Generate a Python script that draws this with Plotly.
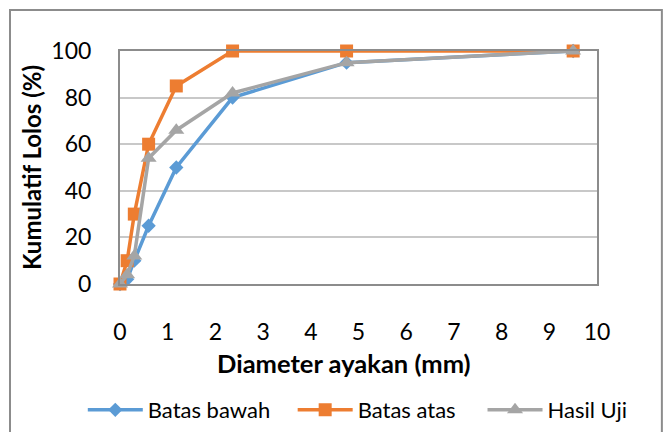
import plotly.graph_objects as go

# Sieve openings (mm) and cumulative percent passing
diameter = [0, 0.15, 0.3, 0.6, 1.18, 2.36, 4.75, 9.5]
batas_bawah = [0, 2, 10, 25, 50, 80, 95, 100]
batas_atas = [0, 10, 30, 60, 85, 100, 100, 100]
hasil_uji = [0, 4, 12, 54, 66, 82, 95, 100]

x_ticks = [0, 1, 2, 3, 4, 5, 6, 7, 8, 9, 10]
y_ticks = [0, 20, 40, 60, 80, 100]

FONT = "Lato"
# name, values, colour, marker, marker size, legend id, legend x (paper)
series = [
    ("Batas bawah", batas_bawah, "#5B9BD5", "diamond", 11, "legend", -0.078),
    ("Batas atas", batas_atas, "#ED7D31", "square", 13, "legend2", 0.362),
    ("Hasil Uji", hasil_uji, "#A5A5A5", "triangle-up", 14, "legend3", 0.760),
]

fig = go.Figure()
legends = {}
for name, vals, color, symbol, size, leg, lx in series:
    fig.add_trace(go.Scatter(
        x=diameter, y=vals, name=name, mode="lines+markers",
        line=dict(color=color, width=3.5),
        marker=dict(symbol=symbol, size=size, color=color),
        cliponaxis=False, legend=leg,
    ))
    legends[leg] = dict(
        orientation="h", x=lx, xanchor="left",
        y=-0.541, yanchor="middle", bgcolor="rgba(0,0,0,0)",
        font=dict(family=FONT, size=22, color="#000000"),
        itemwidth=55,
    )

fig.update_layout(
    width=664, height=432,
    margin=dict(l=120, r=67, t=51, b=148, autoexpand=False),
    paper_bgcolor="white", plot_bgcolor="white",
    font=dict(family=FONT, size=23, color="#000000"),
    showlegend=True,
    **legends,
    xaxis=dict(
        range=[0, 10], tickvals=x_ticks, showgrid=False, zeroline=False,
        showline=True, mirror=True, linecolor="#8C8C8C", linewidth=2,
        ticks="", ticklabelstandoff=26, automargin=False,
        tickfont=dict(family=FONT, size=23),
    ),
    yaxis=dict(
        range=[0, 100], tickvals=y_ticks, showgrid=True,
        gridcolor="#C8C8C8", gridwidth=1.5, zeroline=False,
        showline=True, mirror=True, linecolor="#8C8C8C", linewidth=2,
        ticks="", ticklabelstandoff=22, automargin=False,
        tickfont=dict(family=FONT, size=23),
        title=dict(text="<b>Kumulatif Lolos (%)</b>", standoff=3,
                   font=dict(family=FONT, size=24)),
    ),
    annotations=[dict(
        text="<b>Diameter ayakan (mm)</b>", xref="paper", yref="paper",
        x=0.4696, y=-0.339, xanchor="center", yanchor="middle",
        showarrow=False, font=dict(family=FONT, size=25.5, color="#000000"),
    )],
    shapes=[dict(
        type="rect", xref="paper", yref="paper",
        x0=-0.2306, x1=1.136, y0=-0.645, y1=1.176,
        line=dict(color="#8C8C8C", width=2), fillcolor="rgba(0,0,0,0)",
        layer="below",
    )],
)

fig.write_html("out.html")
